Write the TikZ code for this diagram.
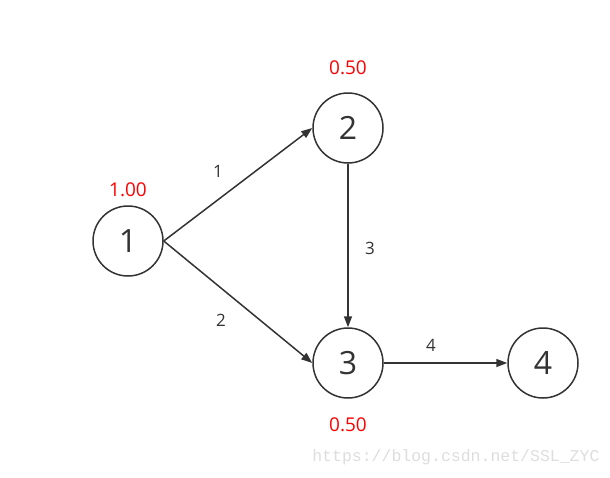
\documentclass[tikz,border=0pt]{standalone}
\usepackage{fontspec}
\setmainfont{Open Sans}
\newfontfamily\wmfont{Liberation Mono}
\usetikzlibrary{arrows.meta}
\definecolor{ink}{HTML}{333333}
\definecolor{wm}{HTML}{DDDDDD}
\begin{document}
\begin{tikzpicture}[x=1pt,y=-1pt,
  vtx/.style={circle,draw=ink,line width=1.5pt,minimum size=70pt,inner sep=0pt,text=ink,font=\fontsize{32}{32}\selectfont},
  val/.style={text=red,font=\fontsize{19}{19}\selectfont},
  elab/.style={text=ink,font=\fontsize{17}{17}\selectfont},
  edge/.style={draw=ink,line width=1.5pt,-{Triangle[length=11pt,width=8pt]}}]
\useasboundingbox (0,0) rectangle (610,477);
\node[vtx] (n1) at (128,241) {1};
\node[vtx] (n2) at (348,128) {2};
\node[vtx] (n3) at (348,363) {3};
\node[vtx] (n4) at (543,363) {4};
\node[val] (v1) at (128,190) {1.00};
\node[val] (v2) at (348,68) {0.50};
\node[val] (v3) at (348,425) {0.50};
\node[elab] (e1) at (218,171) {1};
\node[elab] (e2) at (221,320) {2};
\node[elab] (e3) at (370,248) {3};
\node[elab] (e4) at (431,345) {4};
\draw[edge] (n1.east) -- (n2.west);
\draw[edge] (n1.east) -- (n3.west);
\draw[edge] (n2) -- (n3);
\draw[edge] (n3) -- (n4);
\node[text=wm,font=\wmfont\fontsize{16.5}{16.5}\selectfont,anchor=east] (wm) at (603,457) {https://blog.csdn.net/SSL\_ZYC};
\end{tikzpicture}
\end{document}
